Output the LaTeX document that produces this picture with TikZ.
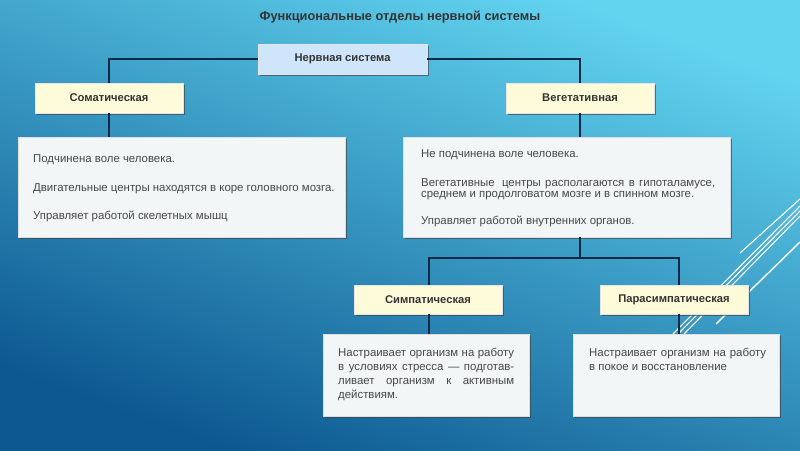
\documentclass[tikz,border=0pt]{standalone}
\usepackage{fontspec}
\setmainfont{Liberation Sans}
\usetikzlibrary{shadows}
\definecolor{navy}{HTML}{0B2946}
\definecolor{labtxt}{HTML}{333333}
\definecolor{bodytxt}{HTML}{474747}
\definecolor{nsfill}{HTML}{CFE5FB}
\definecolor{yfill}{HTML}{FDFBD9}
\definecolor{tfill}{HTML}{F2F6F6}
\definecolor{bgtop}{HTML}{62D4F0}
\definecolor{bgbot}{HTML}{0C5890}
\tikzset{
  boxshadow/.style={drop shadow={shadow xshift=1.8pt, shadow yshift=-1.8pt, opacity=0.65, fill=black!75}},
  labelbox/.style={rectangle, draw=white!80!gray, line width=0.8pt, inner sep=0pt, boxshadow,
     font=\bfseries\fontsize{11.2}{13}\selectfont, text=labtxt},
  nsbox/.style={labelbox, fill=nsfill},
  ybox/.style={labelbox, fill=yfill},
  textbox/.style={rectangle, draw=white!75!gray, line width=0.8pt, fill=tfill, inner sep=0pt, boxshadow},
  bodyline/.style={anchor=base west, inner sep=0pt, text=bodytxt, font=\fontsize{11.4}{13}\selectfont},
  conn/.style={draw=navy, line width=2pt},
  deco/.style={draw=white, line width=1.1pt}
}
\begin{document}
\begin{tikzpicture}[x=1pt,y=-1pt]
\useasboundingbox (0,0) rectangle (800,450);
\shade[top color=bgtop, bottom color=bgbot, shading angle=-20] (0,0) rectangle (800,450);
% decorative lines
\draw[deco] (740,253) -- (800,199);
\draw[deco] (673,334) -- (800,206);
\draw[deco] (678,334) -- (800,211);
\draw[deco] (684,334) -- (800,216);
\draw[deco, line width=1.4pt] (716,324) -- (800,242);
% title
\node[font=\bfseries\fontsize{12.8}{15}\selectfont, text=labtxt] (title) at (400,17) {Функциональные отделы нервной системы};
% boxes
\node[nsbox, minimum width=169pt, minimum height=30pt] (ns) at (342.5,59) {Нервная система};
\node[ybox, minimum width=148pt, minimum height=30pt] (soma) at (109,98) {Соматическая};
\node[ybox, minimum width=148pt, minimum height=30pt] (veg) at (580,98) {Вегетативная};
\node[textbox, minimum width=327pt, minimum height=100pt] (somatxt) at (181.5,187) {};
\node[textbox, minimum width=327pt, minimum height=100pt] (vegtxt) at (566.5,187) {};
\node[ybox, minimum width=148pt, minimum height=29pt] (simp) at (428,299.5) {Симпатическая};
\node[ybox, minimum width=148pt, minimum height=29pt] (para) at (674,299.5) {Парасимпатическая};
\node[textbox, minimum width=206pt, minimum height=82pt] (simptxt) at (426,375) {};
\node[textbox, minimum width=206pt, minimum height=82pt] (paratxt) at (676,375) {};
% connectors
\coordinate (vb) at (580,258);
\coordinate (sj) at (429,258);
\coordinate (pj) at (679,258);
\draw[conn] (ns.west) -| (soma.north);
\draw[conn] (ns.east) -| (veg.north);
\draw[conn] (soma.south) -- (soma.south |- somatxt.north);
\draw[conn] (veg.south) -- (veg.south |- vegtxt.north);
\draw[conn] (vegtxt.south -| vb) -- (vb);
\draw[conn] (sj |- simp.north) -- (sj) -- (pj) -- (pj |- para.north);
\draw[conn] (sj |- simp.south) -- (sj |- simptxt.north);
\draw[conn] (pj |- para.south) -- (pj |- paratxt.north);
% texts
\node[bodyline] (s1) at (33,162.5) {Подчинена воле человека.};
\node[bodyline] (s2) at (33,191.5) {Двигательные центры находятся в коре головного мозга.};
\node[bodyline] (s3) at (33,219.5) {Управляет работой скелетных мышц};
\node[bodyline] (v1) at (421,157) {Не подчинена воле человека.};
\node[bodyline] (v2) at (421,186) {\makebox[294pt][s]{Вегетативные\hspace{3pt} центры располагаются в гипоталамусе,}};
\node[bodyline] (v3) at (421,197.5) {среднем и продолговатом мозге и в спинном мозге.};
\node[bodyline] (v4) at (421,224) {Управляет работой внутренних органов.};
\node[bodyline] (p1) at (338,356) {\makebox[176pt][s]{Настраивает организм на работу}};
\node[bodyline] (p2) at (338,370) {\makebox[176pt][s]{в условиях стресса — подготав-}};
\node[bodyline] (p3) at (338,384) {\makebox[176pt][s]{ливает организм к активным}};
\node[bodyline] (p4) at (338,398) {действиям.};
\node[bodyline] (q1) at (589,356) {\makebox[177pt][s]{Настраивает организм на работу}};
\node[bodyline] (q2) at (589,370) {в покое и восстановление};
\end{tikzpicture}
\end{document}
